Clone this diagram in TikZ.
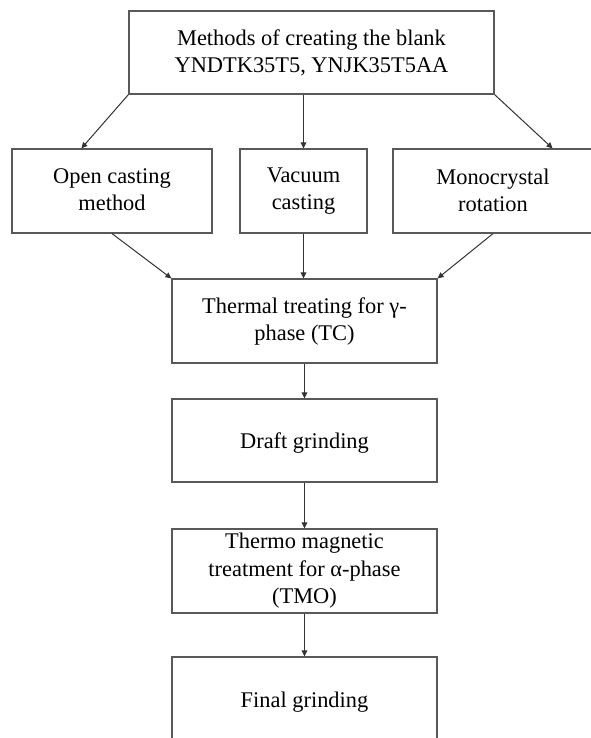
\documentclass[tikz,border=0pt]{standalone}
\usepackage{fontspec}
\setmainfont{Liberation Serif}
\usetikzlibrary{arrows.meta, positioning}
\tikzset{
  procbox/.style={rectangle, draw=black!65, line width=0.6pt, align=center,
    font=\fontsize{11.2}{13.5}\selectfont, inner sep=0pt,
    execute at begin node={\rule{0pt}{10.5pt}},
    execute at end node={\rule[-1.2pt]{0pt}{1.2pt}}},
  rowbox/.style={procbox, minimum width=100pt, minimum height=42pt},
  chainbox/.style={procbox, minimum width=132.5pt, minimum height=42pt},
  arrow/.style={-{Triangle[length=3pt,width=2.8pt]}, line width=0.5pt, color=black!80}
}
\begin{document}
\begin{tikzpicture}[x=0.5pt, y=-0.5pt]
  \useasboundingbox (0,0) rectangle (590,738);

  % Blank creation
  \node[procbox, minimum width=182.5pt, minimum height=41.5pt] (blank) at (311.5,52.5)
    {Methods of creating the blank\\YNDTK35T5, YNJK35T5AA};

  % Casting methods
  \node[rowbox] (open) at (112,191) {Open casting\\method};
  \node[rowbox, minimum width=63.5pt] (vacuum) at (303.5,191) {Vacuum\\casting};
  \node[rowbox] (mono) at (493,191) {Monocrystal\\rotation};

  % Processing chain
  \node[chainbox] (thermal) at (304.5,321) {Thermal treating for γ-\\phase (TC)};
  \node[chainbox, minimum height=41.5pt] (draft) at (304.5,440.5) {Draft grinding};
  \node[chainbox, font=\fontsize{11.2}{13.75}\selectfont] (tmo) at (304.5,571)
    {Thermo magnetic\\treatment for α-phase\\(TMO)};
  \node[chainbox] (final) at (304.5,699) {Final grinding};

  % Connectors
  \draw[arrow] (blank.south west) -- ([xshift=35pt]open.north west);
  \draw[arrow] (vacuum.north |- blank.south) -- (vacuum.north);
  \draw[arrow] (blank.south east) -- ([xshift=-20.5pt]mono.north east);
  \draw[arrow] (open.south) -- (thermal.north west);
  \draw[arrow] (vacuum.south) -- (vacuum.south |- thermal.north);
  \draw[arrow] (mono.south) -- (thermal.north east);
  \draw[arrow] (thermal.south) -- (draft.north);
  \draw[arrow] (draft.south) -- (tmo.north);
  \draw[arrow] (tmo.south) -- (final.north);
\end{tikzpicture}
\end{document}
